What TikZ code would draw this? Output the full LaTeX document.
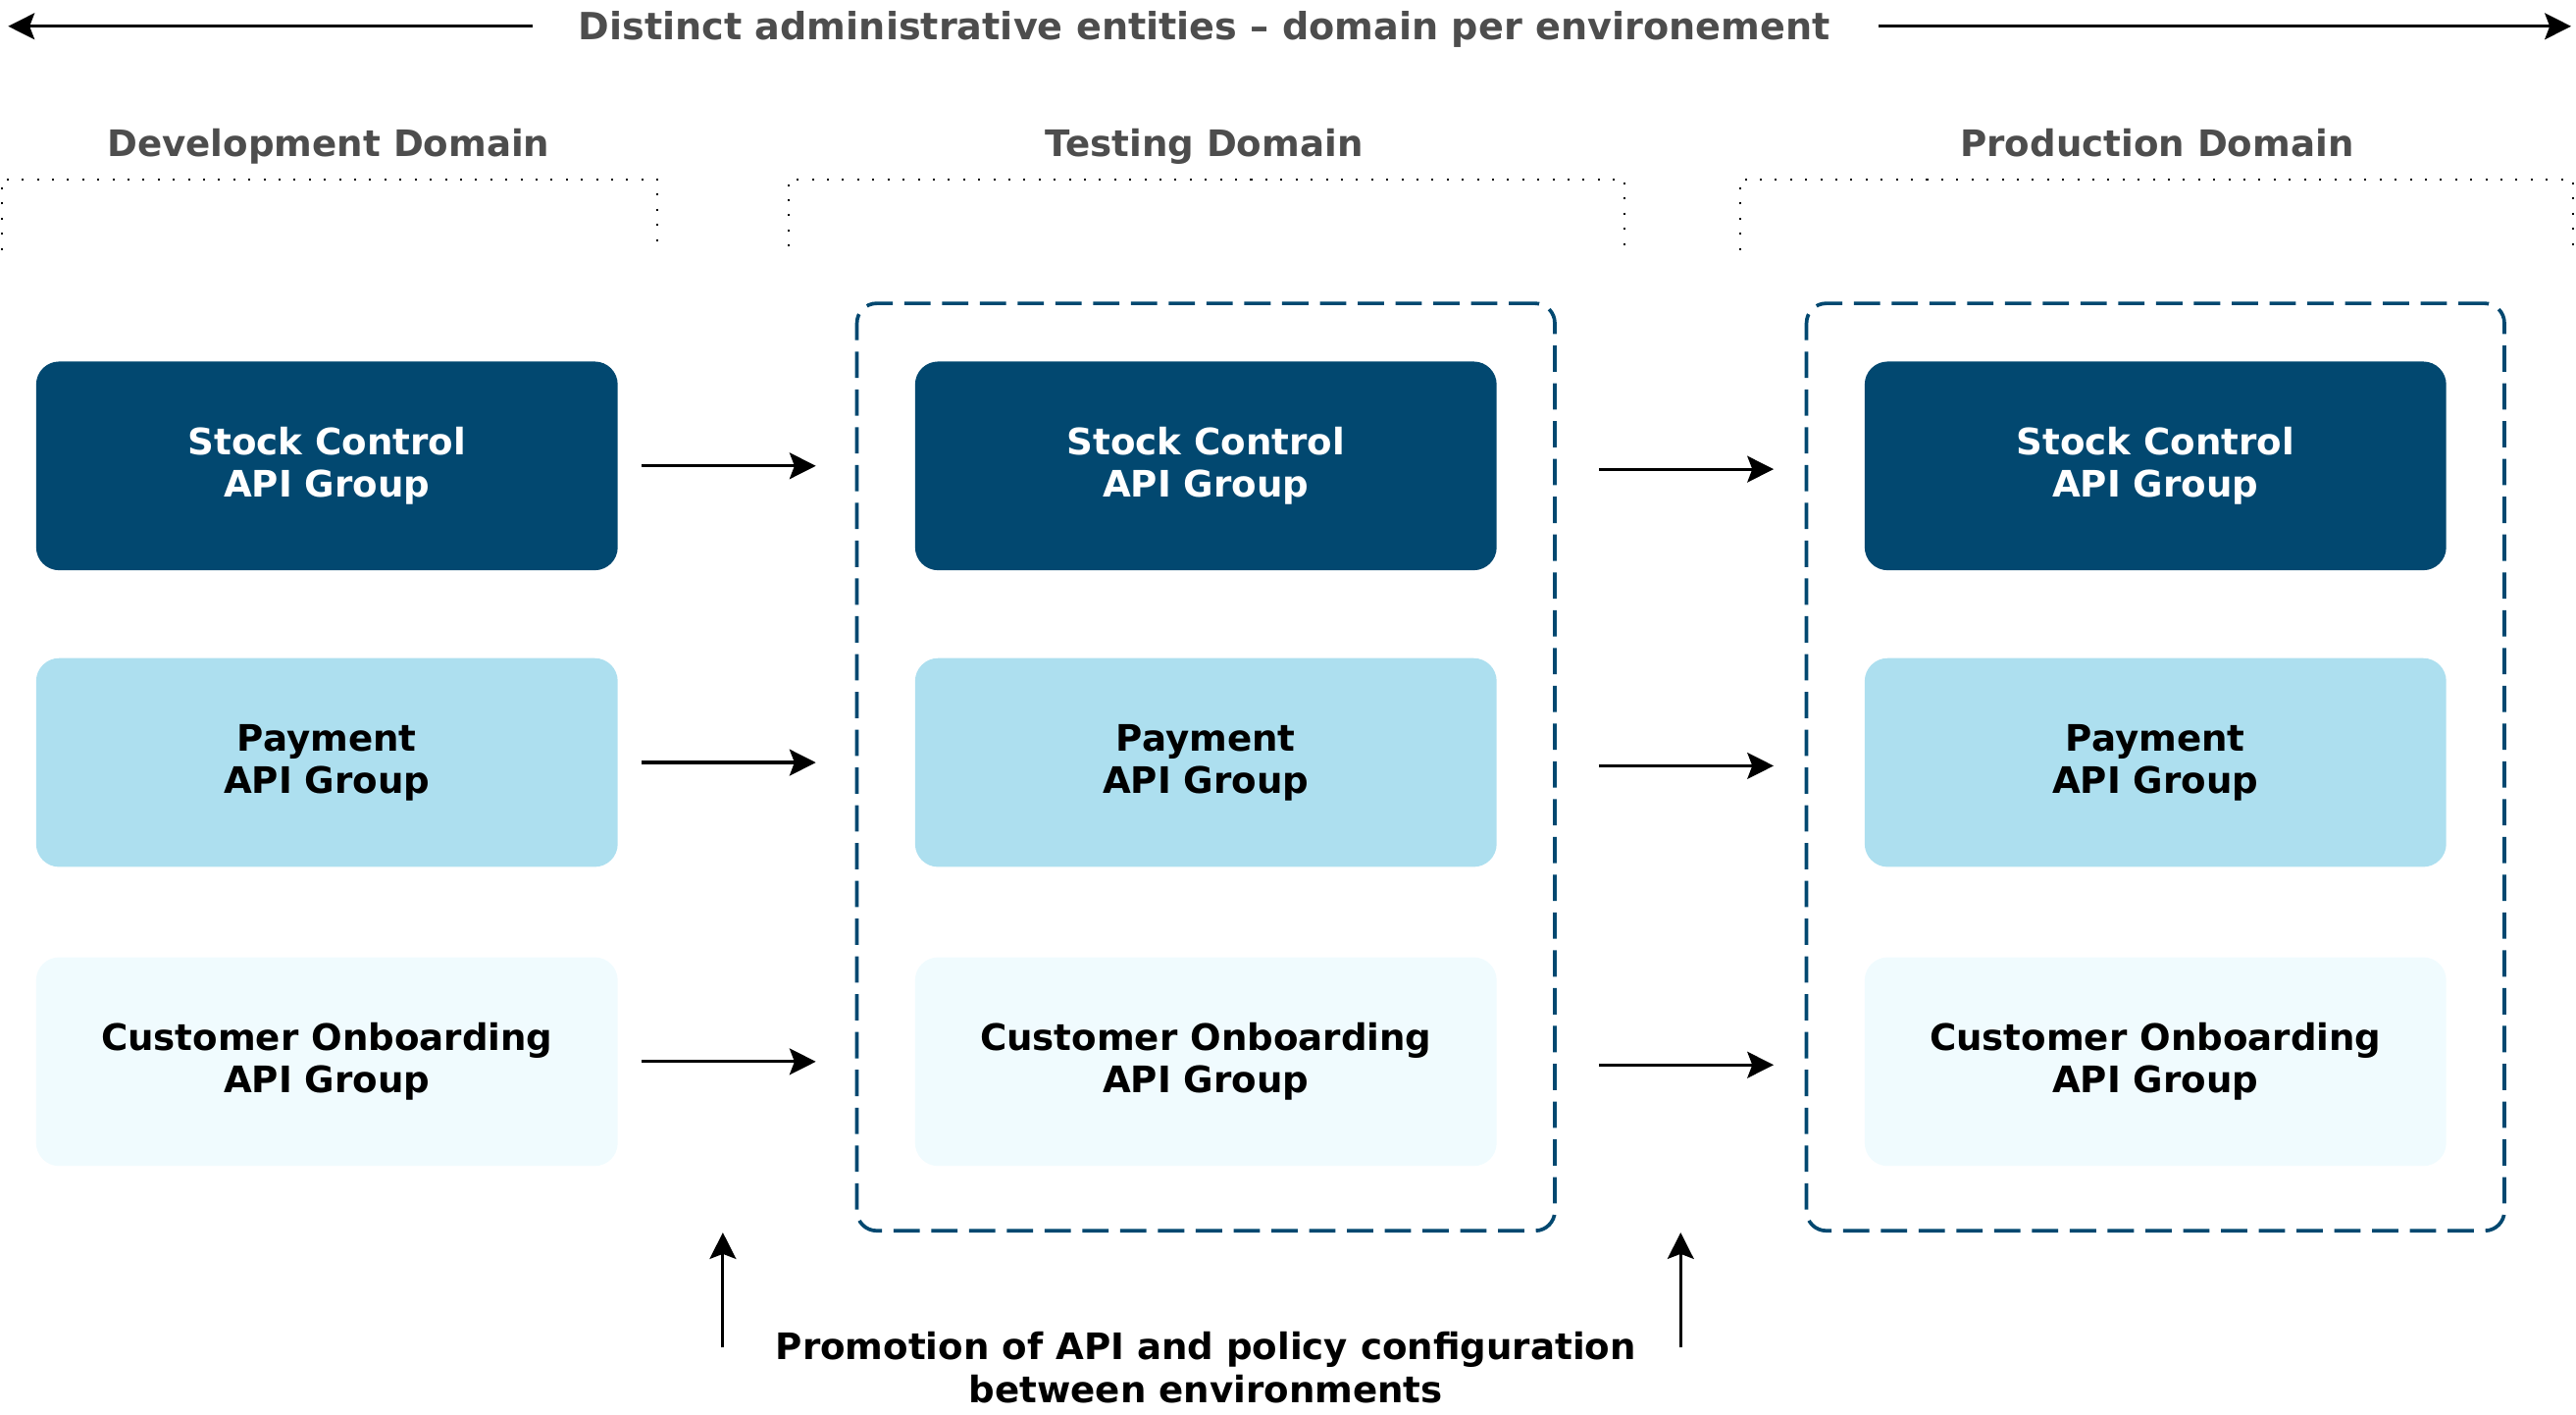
\documentclass[tikz,border=0pt]{standalone}
\usepackage{fontspec}
\setmainfont{DejaVu Sans}
\usetikzlibrary{arrows.meta,positioning,fit,calc}
\definecolor{stockblue}{HTML}{024870}
\definecolor{paycyan}{HTML}{ADDFEF}
\definecolor{onbcyan}{HTML}{F0FBFE}
\definecolor{domgray}{HTML}{4D4D4D}
\tikzset{
  txt/.style={font=\bfseries\fontsize{11.1}{13}\selectfont, align=center},
  group/.style={txt, rounded corners=7pt, minimum width=177pt, minimum height=63.5pt},
  stock/.style={group, fill=stockblue, text=white},
  pay/.style={group, fill=paycyan},
  onb/.style={group, fill=onbcyan},
  domlabel/.style={txt, text=domgray, anchor=base},
  promo/.style={-{Stealth[length=8pt,width=8pt,inset=1.5pt]}, line width=0.95pt},
  bracket/.style={line width=0.6pt, dash pattern=on 0.6pt off 4pt},
  env/.style={draw=stockblue, line width=1.1pt, dash pattern=on 8pt off 3.5pt,
    rounded corners=6pt, inner xsep=17.5pt, inner ysep=18.5pt, yshift=-1pt},
}
\begin{document}
\begin{tikzpicture}[x=0.5pt,y=-0.5pt]
     \useasboundingbox (0,0) rectangle (1568,861);
     %标题
     \node[domlabel, font=\bfseries\fontsize{11.4}{13}\selectfont] (title) at (733,24) {Distinct administrative entities -- domain per environement};
     \coordinate (lend) at (5,16);
     \coordinate (rend) at (1565,16);
     \draw[promo] ([xshift=-10.3pt]title.west |- lend) -- (lend);
     \draw[promo] ([xshift=11.3pt]title.east |- rend) -- (rend);

     \node[domlabel] (dev) at (200,95) {Development Domain};
     \node[domlabel] (tst) at (733,95.5) {Testing Domain};
     \node[domlabel] (prd) at (1313,95) {Production Domain};
     \draw[bracket] (1,152) |- (400,109) -- (400,152);
     \draw[bracket] (480,150) |- (989,109) -- (989,150);
     \draw[bracket] (1059,152) |- (1566,109) -- (1566,152);

     %API组
     \foreach \x/\c in {199/1,734/2,1312/3}  {
     	\node[stock] (s\c) at (\x,283.5) {Stock Control\\API Group};
     	\node[pay] (p\c) at (\x,464) {Payment\\API Group};
     	\node[onb] (o\c) at (\x,646) {Customer Onboarding\\API Group};
     }
     \node[env, fit=(s2)(o2)] (tstenv) {};
     \node[env, fit=(s3)(o3)] (prdenv) {};

     \foreach \r in {s,p,o}  {
     	\draw[promo] ([xshift=7pt]\r1.east) -- ([xshift=-30pt]\r2.west);
     	\draw[promo] ([xshift=31pt,yshift=-1pt]\r2.east) -- ([xshift=-27.5pt,yshift=-1pt]\r3.west);
     }

     %底部
     \node[txt] (note) at (734,832) {Promotion of API and policy configuration\\between environments};
     \coordinate (upL) at (440,820);
     \coordinate (upR) at (1023,820);
     \draw[promo] (upL) -- ++(0,-70);
     \draw[promo] (upR) -- ++(0,-70);
\end{tikzpicture}
\end{document}
